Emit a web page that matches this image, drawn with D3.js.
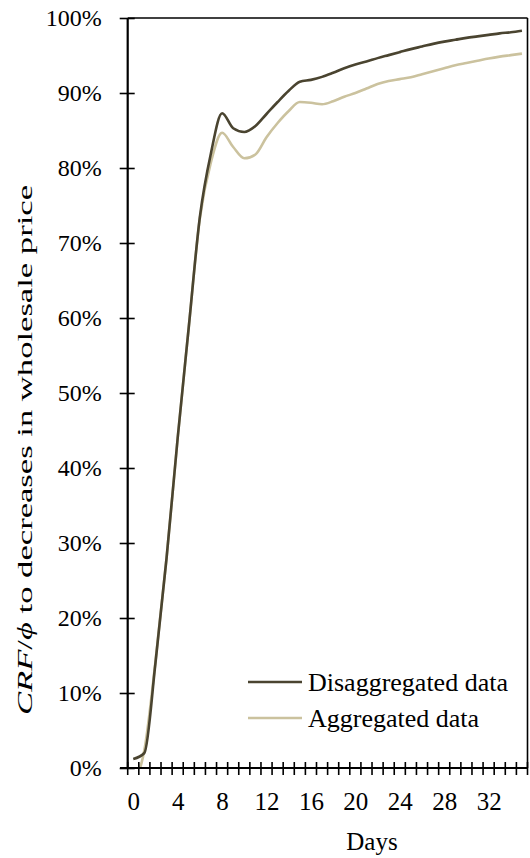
<!DOCTYPE html>
<html>
<head>
<meta charset="utf-8">
<script src="https://cdn.jsdelivr.net/npm/d3@7"></script>
<style>
  html, body { margin: 0; padding: 0; background: #fff; }
  svg { display: block; font-family: "Liberation Serif", "Times New Roman", serif; }
</style>
</head>
<body>
<svg id="chart" width="530" height="858"></svg>
<script>
// Days after the price change (one category per day)
const days = [0, 1, 2, 3, 4, 5, 6, 7, 8, 9, 10, 11, 12, 13, 14, 15, 16, 17,
              18, 19, 20, 21, 22, 23, 24, 25, 26, 27, 28, 29, 30, 31, 32, 33, 34, 35];

// Cumulative response fraction (%), disaggregated data
const disaggregated = [1.2, 2.0, 14, 28, 44, 58.8, 73.5, 82, 87.3, 85.3, 84.8, 85.6,
                       87.2, 88.8, 90.3, 91.5, 91.75, 92.15, 92.7, 93.3, 93.8, 94.2, 94.65, 95.05,
                       95.45, 95.85, 96.2, 96.55, 96.85, 97.1, 97.35, 97.55, 97.75, 97.95, 98.1, 98.3];

// Cumulative response fraction (%), aggregated data
const aggregated = [-2, 2.4, 14.2, 28, 44, 58.8, 73.3, 80.8, 84.7, 82.8, 81.3, 81.8,
                    84.1, 86.0, 87.6, 88.8, 88.7, 88.5, 88.9, 89.5, 90.0, 90.6, 91.2, 91.6,
                    91.85, 92.1, 92.5, 92.9, 93.3, 93.7, 94.0, 94.3, 94.6, 94.85, 95.05, 95.25];

const yTicks = [0, 10, 20, 30, 40, 50, 60, 70, 80, 90, 100];
const xLabels = [0, 4, 8, 12, 16, 20, 24, 28, 32];

const seriesNames = ["Disaggregated data", "Aggregated data"];
const seriesColors = ["#4a4430", "#cbc29e"];

const svg = d3.select("#chart");

const plotLeft = 127.7, plotRight = 527.5, plotTop = 18, plotBottom = 768;

const x = d3.scaleLinear().domain([-0.5, days.length - 0.5]).range([plotLeft, plotRight]);
const y = d3.scaleLinear().domain([0, 100]).range([plotBottom, plotTop]);

// Clip so that values below 0% are cut at the axis
svg.append("defs").append("clipPath").attr("id", "plot-clip")
  .append("rect")
  .attr("x", plotLeft).attr("y", plotTop)
  .attr("width", plotRight - plotLeft).attr("height", plotBottom - plotTop);

// Frame: top and right edges
svg.append("line").attr("x1", plotLeft).attr("x2", plotRight).attr("y1", plotTop).attr("y2", plotTop)
  .attr("stroke", "#000").attr("stroke-width", 1.6);
svg.append("line").attr("x1", plotRight).attr("x2", plotRight).attr("y1", plotTop).attr("y2", plotBottom)
  .attr("stroke", "#000").attr("stroke-width", 1.6);

// Data lines
const line = d3.line()
  .x((d, i) => x(days[i]))
  .y(d => y(d))
  .curve(d3.curveMonotoneX);

const plot = svg.append("g").attr("clip-path", "url(#plot-clip)");
[aggregated, disaggregated].forEach((vals, k) => {
  const idx = k === 0 ? 1 : 0;
  plot.append("path")
    .datum(vals)
    .attr("fill", "none")
    .attr("stroke", seriesColors[idx])
    .attr("stroke-width", 2.6)
    .attr("stroke-linejoin", "round")
    .attr("d", line);
});

// Y axis: crossing ticks and percentage labels
const yAxisL = d3.axisLeft(y).tickValues(yTicks).tickSize(8).tickPadding(18)
  .tickFormat(d => d + "%");
const yAxisR = d3.axisRight(y).tickValues(yTicks).tickSize(7).tickFormat("");
const gy = svg.append("g").attr("transform", `translate(${plotLeft},0)`).call(yAxisL);
svg.append("g").attr("transform", `translate(${plotLeft},0)`).call(yAxisR)
  .call(g => g.select(".domain").remove());
gy.select(".domain").remove();
svg.selectAll(".tick line").attr("stroke", "#000").attr("stroke-width", 1.6);
gy.selectAll("text")
  .attr("font-family", "Liberation Serif, serif")
  .attr("font-size", 24)
  .attr("fill", "#000");

svg.append("line").attr("x1", plotLeft).attr("x2", plotLeft).attr("y1", plotTop).attr("y2", plotBottom + 1)
  .attr("stroke", "#000").attr("stroke-width", 2.2);

// X axis: a tick at every category boundary, labels every 4 days
const boundaries = d3.range(-0.5, days.length + 0.5, 1);
svg.append("g").selectAll("line")
  .data(boundaries)
  .join("line")
  .attr("x1", d => x(d)).attr("x2", d => x(d))
  .attr("y1", plotBottom - 6).attr("y2", plotBottom + 7)
  .attr("stroke", "#000").attr("stroke-width", 1.6);

const xAxis = d3.axisBottom(x).tickValues(xLabels).tickSize(0).tickPadding(24)
  .tickFormat(d3.format("d"));
const gx = svg.append("g").attr("transform", `translate(0,${plotBottom})`).call(xAxis);
gx.select(".domain").remove();
gx.selectAll("text")
  .attr("font-family", "Liberation Serif, serif")
  .attr("font-size", 25)
  .attr("fill", "#000");

svg.append("line").attr("x1", 120).attr("x2", plotRight).attr("y1", plotBottom).attr("y2", plotBottom)
  .attr("stroke", "#000").attr("stroke-width", 2.2);

// Axis titles
svg.append("text")
  .attr("x", 372).attr("y", 850)
  .attr("text-anchor", "middle")
  .attr("font-family", "Liberation Serif, serif")
  .attr("font-size", 25)
  .text("Days");

const yTitle = svg.append("text")
  .attr("transform", "translate(32,450) rotate(-90)")
  .attr("text-anchor", "middle")
  .attr("font-family", "Liberation Serif, serif")
  .attr("font-size", 21)
  .attr("textLength", 530)
  .attr("lengthAdjust", "spacingAndGlyphs");
yTitle.append("tspan").attr("font-style", "italic").text("CRF");
yTitle.append("tspan").text("/");
yTitle.append("tspan").attr("font-style", "italic").text("\u03D5");
yTitle.append("tspan").text(" to decreases in wholesale price");

// Legend
const legendY = [682, 718];
const legend = svg.append("g");
seriesNames.forEach((name, i) => {
  legend.append("line")
    .attr("x1", 248).attr("x2", 302)
    .attr("y1", legendY[i]).attr("y2", legendY[i])
    .attr("stroke", seriesColors[i]).attr("stroke-width", 2.6);
  legend.append("text")
    .attr("x", 308).attr("y", legendY[i] + 9)
    .attr("font-family", "Liberation Serif, serif")
    .attr("font-size", 26)
    .text(name);
});
</script>
</body>
</html>
